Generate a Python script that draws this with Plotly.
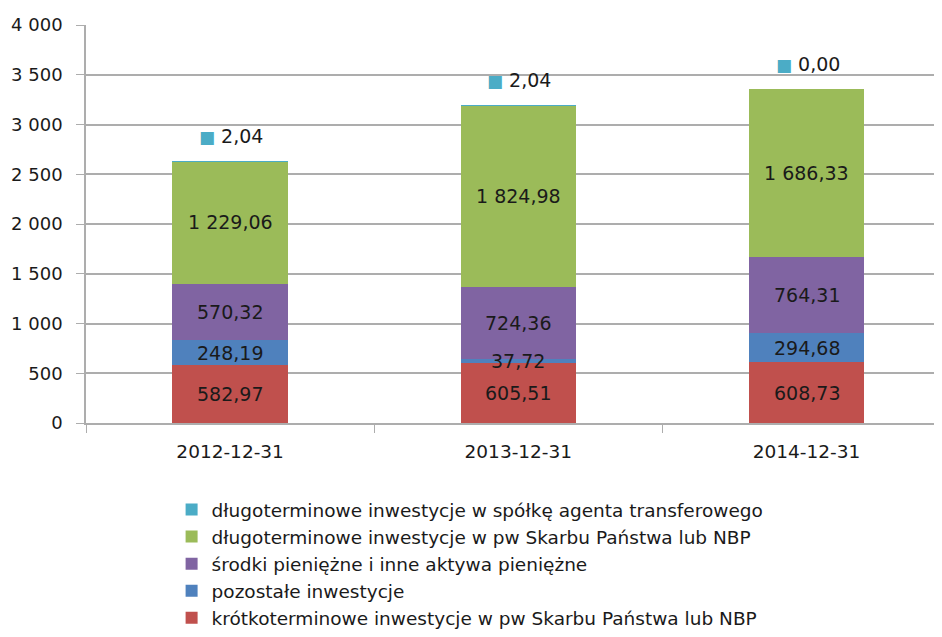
import plotly.graph_objects as go

# data
DATES = ["2012-12-31", "2013-12-31", "2014-12-31"]
KROTKO_PW = [582.97, 605.51, 608.73]
POZOSTALE = [248.19, 37.72, 294.68]
SRODKI = [570.32, 724.36, 764.31]
DLUGO_PW = [1229.06, 1824.98, 1686.33]
DLUGO_AGENT = [2.04, 2.04, 0.00]

SERIES = [
    ("krótkoterminowe inwestycje w pw Skarbu Państwa lub NBP", KROTKO_PW, "#C0504D"),
    ("pozostałe inwestycje", POZOSTALE, "#4F81BD"),
    ("środki pieniężne i inne aktywa pieniężne", SRODKI, "#8064A2"),
    ("długoterminowe inwestycje w pw Skarbu Państwa lub NBP", DLUGO_PW, "#9BBB59"),
    ("długoterminowe inwestycje w spółkę agenta transferowego", DLUGO_AGENT, "#4BACC6"),
]

FONT = "DejaVu Sans, Liberation Sans, sans-serif"
TEXT_COLOR = "#1A1A1A"
GRID = "#ADADAD"


def pl(value):
    # polish number style: space for thousands, comma for decimals
    return f"{value:,.2f}".replace(",", " ").replace(".", ",")


fig = go.Figure()
for name, values, color in SERIES:
    fig.add_trace(
        go.Bar(
            name=name,
            x=DATES,
            y=values,
            marker={"color": color, "line": {"width": 0}},
            hovertemplate="%{x}<br>%{y:,.2f}<extra></extra>",
        )
    )

# value labels in the middle of each segment, drawn on top of all bars
base = [0.0] * len(DATES)
for name, values, color in SERIES[:-1]:
    for i, (date, value) in enumerate(zip(DATES, values)):
        fig.add_annotation(
            x=date,
            y=base[i] + value / 2,
            showarrow=False,
            text=pl(value),
            font={"family": FONT, "size": 19, "color": TEXT_COLOR},
        )
        base[i] += value

# small top series shown as a label with its legend key above each bar
for i, (date, value) in enumerate(zip(DATES, DLUGO_AGENT)):
    fig.add_annotation(
        x=date,
        y=base[i] + value,
        yshift=25,
        xshift=1,
        showarrow=False,
        text=f"<span style='color:#4BACC6;font-size:17px'>■</span> {pl(value)}",
        font={"family": FONT, "size": 19, "color": TEXT_COLOR},
    )

# the page body adds 8px around the figure, so the figure is 8px smaller
fig.update_layout(
    width=934,
    height=629,
    barmode="stack",
    bargap=0.6,
    separators=", ",
    paper_bgcolor="white",
    plot_bgcolor="white",
    font={"family": FONT, "size": 18, "color": TEXT_COLOR},
    margin={"l": 78, "r": 0, "t": 17, "b": 213},
    legend={
        "orientation": "v",
        "traceorder": "reversed",
        "x": 0.10,
        "xanchor": "left",
        "y": -0.170,
        "yanchor": "top",
        "font": {"family": FONT, "size": 18.5, "color": TEXT_COLOR},
        "tracegroupgap": 0,
        "itemwidth": 30,
    },
)
fig.update_xaxes(
    type="category",
    range=[-0.5, 2.47],
    automargin=False,
    showline=True,
    linecolor=GRID,
    linewidth=1.5,
    ticks="outside",
    tickson="boundaries",
    ticklen=8,
    tickcolor=GRID,
    tickfont={"family": FONT, "size": 18.5, "color": TEXT_COLOR},
    ticklabelstandoff=11,
    showgrid=False,
)
fig.update_yaxes(
    range=[0, 4000],
    dtick=500,
    tickformat=",d",
    automargin=False,
    showline=True,
    linecolor=GRID,
    linewidth=1.5,
    ticks="outside",
    ticklen=8,
    tickcolor=GRID,
    showgrid=True,
    gridcolor=GRID,
    gridwidth=1.5,
    zeroline=False,
    tickfont={"family": FONT, "size": 18, "color": TEXT_COLOR},
    ticklabelstandoff=10,
)

fig.write_html("out.html")
